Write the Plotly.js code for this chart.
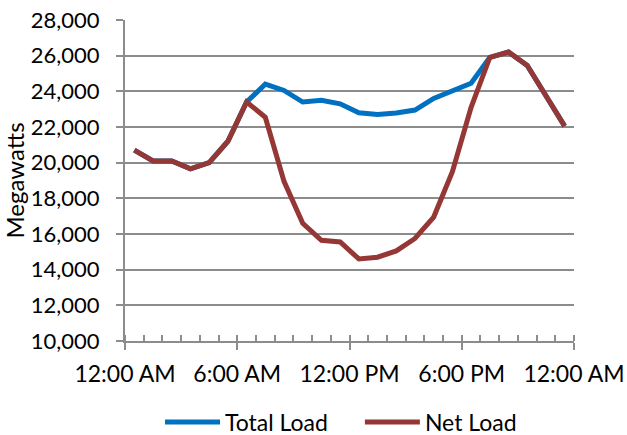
<!DOCTYPE html>
<html>
<head>
<meta charset="utf-8">
<script src="https://cdn.plot.ly/plotly-3.0.1.min.js"></script>
<style>html,body{margin:0;padding:0;background:#fff;}#chart{width:627px;height:435px;}</style>
</head>
<body>
<div id="chart"></div>
<script>
// Hour of day (mid-hour points)
var hours = [0.5,1.5,2.5,3.5,4.5,5.5,6.5,7.5,8.5,9.5,10.5,11.5,12.5,13.5,14.5,15.5,16.5,17.5,18.5,19.5,20.5,21.5,22.5,23.5];
var totalLoad = [20700,20100,20100,19650,20000,21200,23400,24400,24050,23400,23500,23300,22800,22700,22780,22950,23600,24050,24450,25900,26200,25450,23750,22050];
var netLoad = [20700,20100,20100,19650,20000,21200,23400,22550,18950,16600,15650,15550,14600,14700,15050,15750,16950,19500,23100,25900,26200,25450,23750,22050];
var xTickVals = [0,6,12,18,24];
var xTickText = ["12:00 AM","6:00 AM","12:00 PM","6:00 PM","12:00 AM"];
var seriesNames = ["Total Load","Net Load"];

var FONT = "Lato, 'Open Sans', sans-serif";
var GRID = "#8c8c8c";

var traces = [
  {x: hours, y: totalLoad, name: seriesNames[0], type: "scatter", mode: "lines",
   line: {color: "#0070C0", width: 5}, legend: "legend"},
  {x: hours, y: netLoad, name: seriesNames[1], type: "scatter", mode: "lines",
   line: {color: "#953735", width: 5}, legend: "legend2"}
];

var legendBase = {orientation: "h", xanchor: "left", xref: "container",
  y: 0.03, yanchor: "middle", yref: "container",
  font: {family: FONT, size: 23, color: "#000"}, itemwidth: 55, bgcolor: "rgba(0,0,0,0)"};

var layout = {
  width: 627, height: 435,
  margin: {l: 125, r: 53, t: 20, b: 94, pad: 0, autoexpand: false},
  paper_bgcolor: "#fff", plot_bgcolor: "#fff",
  font: {family: FONT, size: 20, color: "#000"},
  showlegend: true,
  legend: Object.assign({}, legendBase, {x: 0.2552}),
  legend2: Object.assign({}, legendBase, {x: 0.574}),
  xaxis: {
    range: [0, 24], tickmode: "array", tickvals: xTickVals, ticktext: xTickText,
    showline: true, linecolor: GRID, linewidth: 2, showgrid: false, zeroline: false,
    ticks: "outside", ticklen: 7, tickwidth: 2, tickcolor: GRID,
    ticklabelstandoff: 4,
    tickfont: {family: FONT, size: 23, color: "#000"},
    minor: {tickmode: "linear", tick0: 0, dtick: 1, ticks: "inside", ticklen: 6, tickwidth: 2, tickcolor: GRID, showgrid: false},
    fixedrange: true
  },
  yaxis: {
    range: [10000, 28000], dtick: 2000, tick0: 10000, tickformat: ",d",
    showline: true, linecolor: GRID, linewidth: 2,
    showgrid: true, gridcolor: GRID, gridwidth: 2, zeroline: false,
    ticks: "outside", ticklen: 7, tickwidth: 2, tickcolor: GRID,
    ticklabelstandoff: 12,
    tickfont: {family: FONT, size: 22, color: "#000"},
    title: {text: "Megawatts", font: {family: FONT, size: 24, color: "#000"}, standoff: 5},
    fixedrange: true
  }
};

Plotly.newPlot("chart", traces, layout, {displayModeBar: false, staticPlot: true});
</script>
</body>
</html>
